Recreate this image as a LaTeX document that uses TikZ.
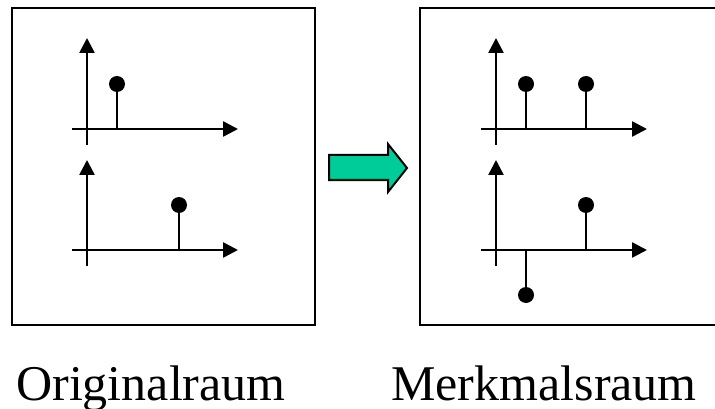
\documentclass[tikz,border=0pt]{standalone}
\usepackage{fontspec}
\setmainfont{Liberation Serif}
\usetikzlibrary{arrows.meta}
\definecolor{arrowgreen}{RGB}{0,204,153}
\begin{document}
\begin{tikzpicture}[x=1pt,y=-1pt,
  frame/.style={draw=black,line width=2.6pt},
  axis/.style={line width=2.6pt,-{Triangle[length=15pt,width=15pt]}},
  stem/.style={line width=2.4pt},
  dot/.style={circle,fill=black,inner sep=0pt,minimum size=16pt},
  lbl/.style={font=\fontsize{50}{60}\selectfont,anchor=base,inner sep=0pt},
  bigarrow/.style={draw=black,line width=2pt,fill=arrowgreen,line join=miter}]
\useasboundingbox (0,0) rectangle (715,409);
\fill[white] (0,0) rectangle (715,409);
% frames
\draw[frame] (12,8) rectangle (315,325);
\draw[frame] (420,8) rectangle (730,325);
% ---------- left box ----------
% top axes
\coordinate (l1xs) at (72,129); \coordinate (l1xe) at (238,129);
\coordinate (l1ys) at (87,145); \coordinate (l1ye) at (87,38);
\draw[axis] (l1xs) -- (l1xe);
\draw[axis] (l1ys) -- (l1ye);
\coordinate (l1b) at (117,129);
\node[dot] (l1d) at (117,84) {};
\draw[stem] (l1b) -- (l1d.center);
% bottom axes
\coordinate (l2xs) at (72,250); \coordinate (l2xe) at (238,250);
\coordinate (l2ys) at (87,266); \coordinate (l2ye) at (87,160);
\draw[axis] (l2xs) -- (l2xe);
\draw[axis] (l2ys) -- (l2ye);
\coordinate (l2b) at (179,250);
\node[dot] (l2d) at (179,205) {};
\draw[stem] (l2b) -- (l2d.center);
% ---------- right box ----------
\coordinate (r1xs) at (481,129); \coordinate (r1xe) at (647,129);
\coordinate (r1ys) at (496,145); \coordinate (r1ye) at (496,38);
\draw[axis] (r1xs) -- (r1xe);
\draw[axis] (r1ys) -- (r1ye);
\coordinate (r1b) at (526,129);
\node[dot] (r1d) at (526,84) {};
\draw[stem] (r1b) -- (r1d.center);
\coordinate (r1c) at (586,129);
\node[dot] (r1e) at (586,84) {};
\draw[stem] (r1c) -- (r1e.center);
\coordinate (r2xs) at (481,250); \coordinate (r2xe) at (647,250);
\coordinate (r2ys) at (496,266); \coordinate (r2ye) at (496,160);
\draw[axis] (r2xs) -- (r2xe);
\draw[axis] (r2ys) -- (r2ye);
\coordinate (r2b) at (526,250);
\node[dot] (r2d) at (526,295) {};
\draw[stem] (r2b) -- (r2d.center);
\coordinate (r2c) at (586,250);
\node[dot] (r2e) at (586,205) {};
\draw[stem] (r2c) -- (r2e.center);
% ---------- middle arrow ----------
\draw[bigarrow] (329,155) -- (388,155) -- (388,144) -- (407,168) -- (388,192) -- (388,180) -- (329,180) -- cycle;
% ---------- labels ----------
\node[lbl] (t1) at (151,400) {Originalraum};
\node[lbl] (t2) at (544,400) {Merkmalsraum};
\end{tikzpicture}
\end{document}
